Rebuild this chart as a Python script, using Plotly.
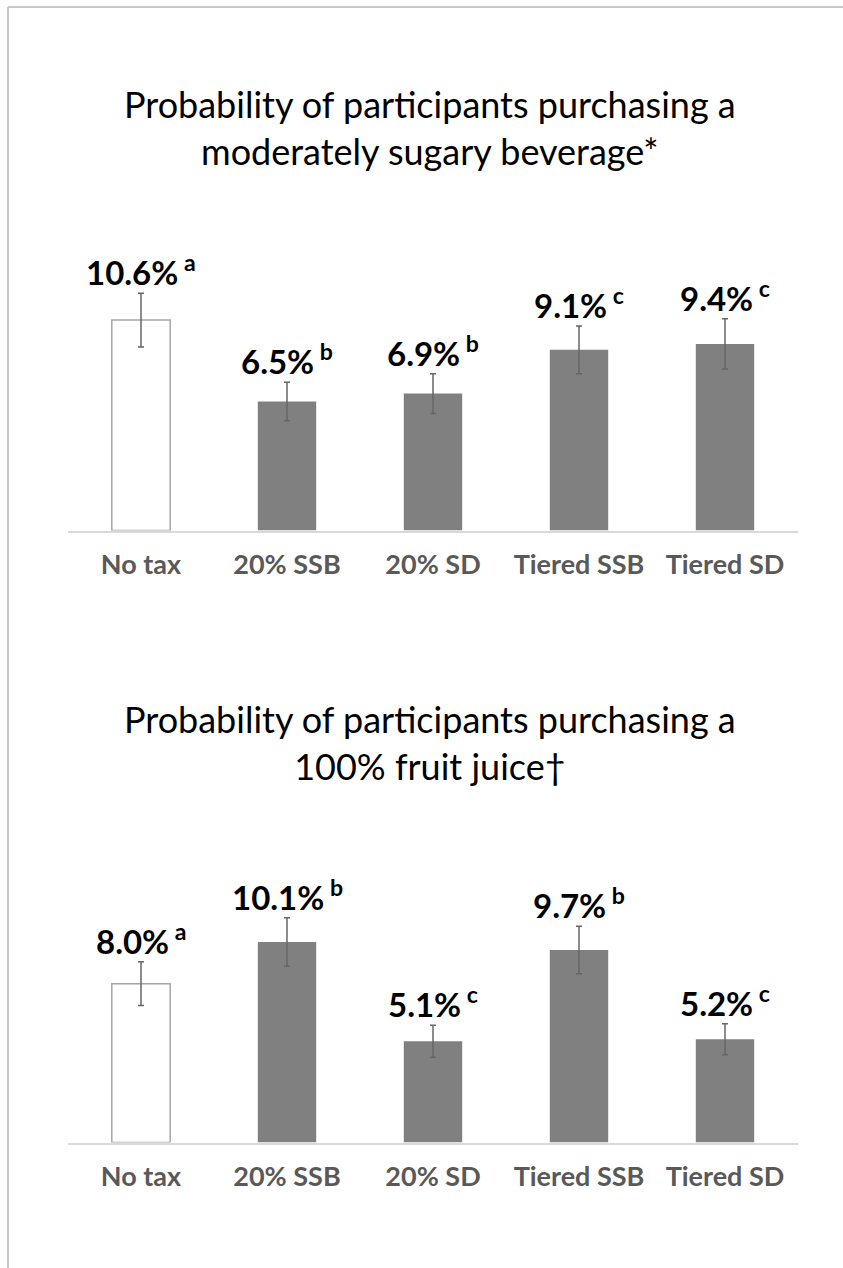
import plotly.graph_objects as go

# Beverage purchase probabilities by tax scenario
categories = ["No tax", "20% SSB", "20% SD", "Tiered SSB", "Tiered SD"]

msb_values = [10.6, 6.5, 6.9, 9.1, 9.4]
msb_err = [1.35, 0.97, 1.0, 1.2, 1.27]
msb_letters = ["a", "b", "b", "c", "c"]

juice_values = [8.0, 10.1, 5.1, 9.7, 5.2]
juice_err = [1.1, 1.22, 0.81, 1.2, 0.78]
juice_letters = ["a", "b", "c", "b", "c"]

titles = [
    "Probability of participants purchasing a<br>moderately sugary beverage*",
    "Probability of participants purchasing a<br>100% fruit juice\u2020",
]

W, H = 843, 1268
FONT = "Lato"

fill_colors = ["#ffffff"] + ["#808080"] * 4
line_colors = ["#a6a6a6"] + ["#808080"] * 4
line_widths = [1.5, 0, 0, 0, 0]

# panel geometry in pixels: baseline y and pixels per percentage point
x_left, x_right = 68, 798
y_max = 13
px_per_unit = 19.85
panels = [
    dict(base=530.5, values=msb_values, err=msb_err, letters=msb_letters,
         title=titles[0], title_y=127),
    dict(base=1142.5, values=juice_values, err=juice_err, letters=juice_letters,
         title=titles[1], title_y=742),
]

fig = go.Figure()
annotations = []

for i, p in enumerate(panels):
    ax = "" if i == 0 else str(i + 1)
    top_px = p["base"] - y_max * px_per_unit
    fig.add_trace(go.Bar(
        x=list(range(len(categories))),
        y=p["values"],
        width=0.4,
        marker=dict(color=fill_colors,
                    line=dict(color=line_colors, width=line_widths)),
        error_y=dict(type="data", array=p["err"], color="#666666",
                     thickness=1.5, width=3),
        xaxis="x" + ax,
        yaxis="y" + ax,
        showlegend=False,
        hoverinfo="skip",
    ))
    axis_common = dict(
        domain=[x_left / W, x_right / W],
        range=[-0.5, len(categories) - 0.5],
        tickmode="array",
        tickvals=list(range(len(categories))),
        ticktext=[f"<b>{c}</b>" for c in categories],
        tickfont=dict(family=FONT, size=27, color="#595959"),
        showline=True, linecolor="#d9d9d9", linewidth=2,
        showgrid=False, zeroline=False, ticks="",
        ticklabelstandoff=9,
        anchor="y" + ax,
    )
    fig.update_layout(**{
        "xaxis" + ax: axis_common,
        "yaxis" + ax: dict(
            domain=[1 - p["base"] / H, 1 - top_px / H],
            range=[0, y_max],
            visible=False,
            anchor="x" + ax,
        ),
    })
    for j, (v, e, l) in enumerate(zip(p["values"], p["err"], p["letters"])):
        annotations.append(dict(
            x=j, y=v + e, xref="x" + ax, yref="y" + ax,
            text=f"<b>{v:.1f}%</b><sup><b> {l}</b></sup>",
            showarrow=False, yanchor="bottom", xanchor="center",
            font=dict(family=FONT, size=33, color="#000000"),
            yshift=-1,
        ))
    annotations.append(dict(
        x=0.51, y=1 - p["title_y"] / H, xref="paper", yref="paper",
        text=p["title"], showarrow=False, xanchor="center", yanchor="middle",
        font=dict(family=FONT, size=36, color="#000000"),
    ))

fig.update_layout(
    width=W, height=H,
    margin=dict(l=0, r=0, t=0, b=0),
    paper_bgcolor="#ffffff", plot_bgcolor="#ffffff",
    bargap=0.6,
    annotations=annotations,
    shapes=[
        dict(type="line", xref="paper", yref="paper",
             x0=8 / W, x1=1, y0=1 - 7 / H, y1=1 - 7 / H,
             line=dict(color="#c8c8c8", width=2)),
        dict(type="line", xref="paper", yref="paper",
             x0=8 / W, x1=8 / W, y0=0, y1=1 - 7 / H,
             line=dict(color="#c8c8c8", width=2)),
    ],
)

fig.write_html("out.html")
